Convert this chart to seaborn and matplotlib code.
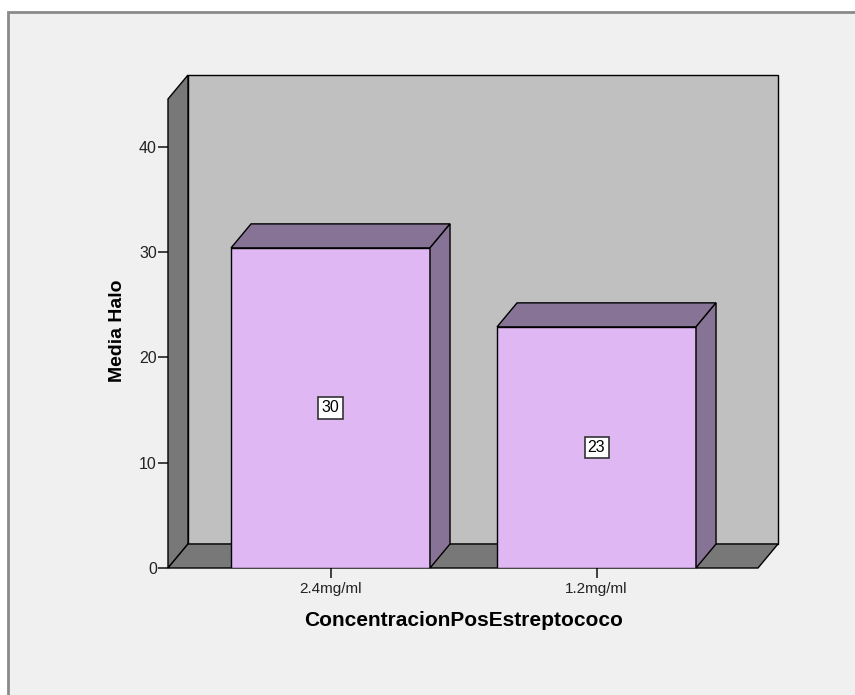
import matplotlib
matplotlib.use("Agg")
import matplotlib.pyplot as plt
from matplotlib.patches import Polygon, Rectangle
import seaborn as sns
import pandas as pd

# Mean halo by concentration
categories = ["2.4mg/ml", "1.2mg/ml"]
media_halo = [30.4, 22.9]
y_ticks = [0, 10, 20, 30, 40]

sns.set_theme(style="white")
plt.rcParams["font.family"] = ["Liberation Sans", "DejaVu Sans"]

FRONT = "#dfb8f3"
SHADE = "#877396"
WALL = "#c0c0c0"
DARK = "#787878"
BG = "#f0f0f0"

fig = plt.figure(figsize=(8.55, 6.95), dpi=100)
fig.patch.set_facecolor("white")
fig.patches.append(Rectangle((8 / 855, -0.05), 1.0, 1 - 12 / 695 + 0.05,
                             transform=fig.transFigure, facecolor=BG,
                             edgecolor="#8a8a8a", linewidth=2.0, zorder=-10))

ax = fig.add_axes([168 / 855, 127 / 695, 610 / 855, 493 / 695])
ax.set_facecolor("none")

df = pd.DataFrame({"conc": categories, "halo": media_halo})
sns.barplot(data=df, x="conc", y="halo", order=categories, color=FRONT,
            saturation=1, width=0.748, edgecolor="black", linewidth=1.0,
            ax=ax, zorder=5)

x0, x1 = -0.611, 1.607
ytop = 44.54
dx, dy = 0.0752, 2.28
ax.set_xlim(x0, x1 + dx)
ax.set_ylim(0, ytop + dy)

kw = dict(edgecolor="black", linewidth=1.0, joinstyle="miter", clip_on=False)
# back wall, left wall and floor of the box
ax.add_patch(Rectangle((x0 + dx, dy), x1 - x0, ytop, facecolor=WALL, zorder=1, **kw))
ax.add_patch(Polygon([(x0, 0), (x0 + dx, dy), (x0 + dx, ytop + dy), (x0, ytop)],
                     closed=True, facecolor=DARK, zorder=2, **kw))
ax.add_patch(Polygon([(x0, 0), (x1, 0), (x1 + dx, dy), (x0 + dx, dy)],
                     closed=True, facecolor=DARK, zorder=2, **kw))

# depth faces and value boxes for each bar
for bar, val in zip(ax.patches[:len(categories)], media_halo):
    bx, bw, h = bar.get_x(), bar.get_width(), bar.get_height()
    ax.add_patch(Polygon([(bx, h), (bx + dx, h + dy), (bx + bw + dx, h + dy), (bx + bw, h)],
                         closed=True, facecolor=SHADE, zorder=6, **kw))
    ax.add_patch(Polygon([(bx + bw, 0), (bx + bw + dx, dy), (bx + bw + dx, h + dy), (bx + bw, h)],
                         closed=True, facecolor=SHADE, zorder=6, **kw))
    ax.text(bx + bw / 2, h / 2, f"{val:.0f}", ha="center", va="center",
            fontsize=11.5, color="black", zorder=8,
            bbox=dict(boxstyle="square,pad=0.2", facecolor="white",
                      edgecolor="#333333", linewidth=1.2))

for s in ax.spines.values():
    s.set_visible(False)

ax.set_yticks(y_ticks)
ax.set_yticklabels([str(t) for t in y_ticks])
ax.tick_params(axis="y", left=True, length=7, width=1.2, color="#222222",
               labelsize=11.5, pad=1, labelcolor="#222222")
ax.tick_params(axis="x", bottom=True, length=7, width=1.2, color="#222222",
               labelsize=11, pad=3, labelcolor="#222222")

ax.set_ylabel("Media Halo", fontsize=14, fontweight="bold", color="black")
ax.yaxis.set_label_coords(-0.0827, 0.482)
ax.yaxis.label.set_va("center")
ax.set_xlabel("ConcentracionPosEstreptococo", fontsize=15, fontweight="bold",
              color="black")
ax.xaxis.set_label_coords(0.484, -0.1075)
ax.xaxis.label.set_va("center")

fig.savefig("out.png", dpi=100)
